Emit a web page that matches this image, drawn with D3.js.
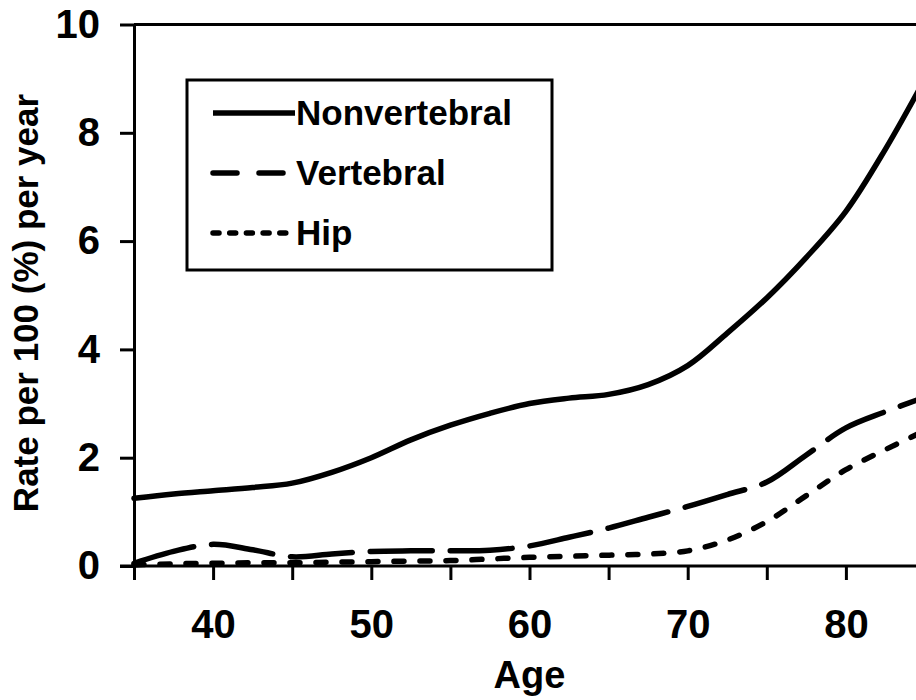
<!DOCTYPE html>
<html>
<head>
<meta charset="utf-8">
<script src="https://cdn.jsdelivr.net/npm/d3@7"></script>
<style>
  body { margin: 0; background: #fff; }
  text { font-family: "Liberation Sans", Arial, sans-serif; font-weight: bold; fill: #000; }
</style>
</head>
<body>
<div id="vis1"></div>
<script>
// Declare constants
const FRAME_HEIGHT = 700;
const FRAME_WIDTH = 916;
const MARGINS = {left: 134, right: -9, top: 24.5, bottom: 134};

const VIS_HEIGHT = FRAME_HEIGHT - MARGINS.top - MARGINS.bottom;
const VIS_WIDTH = FRAME_WIDTH - MARGINS.left - MARGINS.right;

// data
const ages = [35, 37.5, 40, 42.5, 45, 47.5, 50, 52.5, 55, 57.5, 60, 62.5, 65, 67.5, 70, 72.5, 75, 77.5, 80, 82.5, 85];
const nonvertebral = [1.25, 1.33, 1.39, 1.45, 1.53, 1.73, 2.0, 2.33, 2.6, 2.82, 3.0, 3.1, 3.17, 3.35, 3.7, 4.3, 4.95, 5.7, 6.55, 7.7, 9.0];
const vertebral = [0.05, 0.27, 0.4, 0.3, 0.17, 0.22, 0.27, 0.28, 0.28, 0.29, 0.37, 0.53, 0.7, 0.9, 1.1, 1.32, 1.55, 2.05, 2.55, 2.85, 3.12];
const hip = [0.02, 0.04, 0.05, 0.06, 0.06, 0.07, 0.08, 0.09, 0.1, 0.13, 0.16, 0.18, 0.2, 0.22, 0.28, 0.48, 0.82, 1.3, 1.78, 2.15, 2.5];

const seriesNames = ["Nonvertebral", "Vertebral", "Hip"];
const xTicks = [35, 40, 45, 50, 55, 60, 65, 70, 75, 80, 85];
const yTicks = [0, 2, 4, 6, 8, 10];

const SERIES = [
  {name: seriesNames[0], values: nonvertebral, dash: null, legendDash: null},
  {name: seriesNames[1], values: vertebral, dash: "62,18", legendDash: "24,22"},
  {name: seriesNames[2], values: hip, dash: "10,16", legendDash: "6,10.7"}
];

const FRAME1 = d3.select("#vis1")
  .append("svg")
    .attr("height", FRAME_HEIGHT)
    .attr("width", FRAME_WIDTH);

// scales
const X_SCALE = d3.scaleLinear()
  .domain([35, 85])
  .range([0, VIS_WIDTH]);

const Y_SCALE = d3.scaleLinear()
  .domain([0, 10])
  .range([VIS_HEIGHT, 0]);

const plot = FRAME1.append("g")
  .attr("transform", "translate(" + MARGINS.left + "," + MARGINS.top + ")");

// top border of the plot area
plot.append("line")
  .attr("x1", 0).attr("x2", VIS_WIDTH + 10)
  .attr("y1", Y_SCALE(10)).attr("y2", Y_SCALE(10))
  .attr("stroke", "#000").attr("stroke-width", 3);

// axes
const xAxis = plot.append("g")
  .attr("transform", "translate(0," + VIS_HEIGHT + ")")
  .call(d3.axisBottom(X_SCALE)
    .tickValues(xTicks)
    .tickSize(14)
    .tickSizeOuter(0)
    .tickPadding(30)
    .tickFormat((d) => (d % 10 === 0 ? d : "")));

const yAxis = plot.append("g")
  .call(d3.axisLeft(Y_SCALE)
    .tickValues(yTicks)
    .tickSize(14)
    .tickSizeOuter(0)
    .tickPadding(20));

[xAxis, yAxis].forEach((ax) => {
  ax.select(".domain").attr("stroke-width", 3);
  ax.selectAll(".tick line").attr("stroke-width", 3);
  ax.selectAll(".tick text").attr("font-size", "40px")
    .attr("font-family", "Liberation Sans, Arial, sans-serif")
    .attr("font-weight", "bold");
});
// x axis line starts at the 0 tick on the left
xAxis.select(".domain").attr("d", "M-14,0H" + (VIS_WIDTH + 10));

// curves
const line = d3.line()
  .x((d) => X_SCALE(d[0]))
  .y((d) => Y_SCALE(d[1]))
  .curve(d3.curveCatmullRom.alpha(0.5));

SERIES.forEach((s) => {
  plot.append("path")
    .datum(ages.map((a, i) => [a, s.values[i]]))
    .attr("fill", "none")
    .attr("stroke", "#000")
    .attr("stroke-width", 5.5)
    .attr("stroke-linecap", "round")
    .attr("stroke-dasharray", s.dash)
    .attr("d", line);
});

// legend
const legend = FRAME1.append("g");
legend.append("rect")
  .attr("x", 187).attr("y", 80)
  .attr("width", 365).attr("height", 190)
  .attr("fill", "#fff")
  .attr("stroke", "#000")
  .attr("stroke-width", 3);

SERIES.forEach((s, i) => {
  const cy = 113 + i * 60;
  legend.append("line")
    .attr("x1", 213).attr("x2", s.dash ? 291 : 295)
    .attr("y1", cy).attr("y2", cy)
    .attr("stroke", "#000")
    .attr("stroke-width", 5.5)
    .attr("stroke-linecap", s.dash ? "round" : "butt")
    .attr("stroke-dasharray", s.legendDash);
  legend.append("text")
    .attr("x", 296).attr("y", cy + 12)
    .attr("font-size", "35px")
    .text(s.name);
});

// axis titles
FRAME1.append("text")
  .attr("x", MARGINS.left + (X_SCALE(35) + X_SCALE(85)) / 2)
  .attr("y", 688)
  .attr("text-anchor", "middle")
  .attr("font-size", "38px")
  .text("Age");

FRAME1.append("text")
  .attr("transform", "translate(38,303) rotate(-90)")
  .attr("text-anchor", "middle")
  .attr("font-size", "35px")
  .text("Rate per 100 (%) per year");
</script>
</body>
</html>
